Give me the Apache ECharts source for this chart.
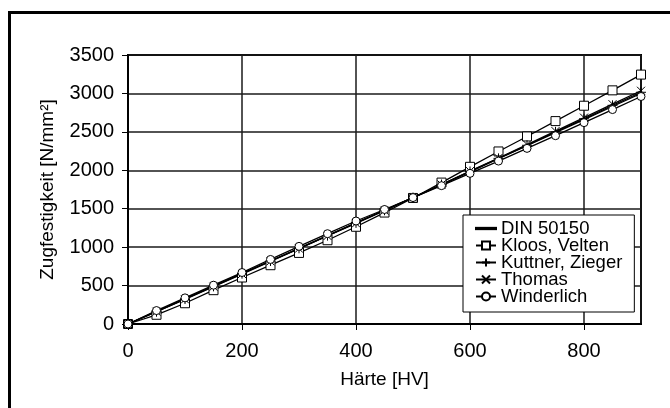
<!DOCTYPE html>
<html>
<head>
<meta charset="utf-8">
<script src="https://cdn.jsdelivr.net/npm/echarts@6/dist/echarts.min.js"></script>
<style>html,body{margin:0;padding:0;background:#fff}#c{width:670px;height:408px}</style>
</head>
<body>
<div id="c"></div>
<script>
const hardness = [0,50,100,150,200,250,300,350,400,450,500,550,600,650,700,750,800,850,900];
const din50150 = [0,165,330,495,660,820,985,1150,1315,1480,1645,1810,1980,2150,2320,2490,2660,2830,3000];
const kloosVelten = [0,120,270,440,605,765,925,1090,1265,1450,1640,1840,2045,2245,2440,2640,2840,3040,3245];
const kuttnerZieger = [0,160,325,490,655,820,985,1150,1315,1480,1645,1815,1985,2155,2325,2500,2670,2845,3015];
const thomas = [0,160,320,485,650,815,980,1145,1310,1475,1645,1815,1990,2160,2335,2510,2685,2860,3035];
const winderlich = [0,175,340,505,670,840,1010,1175,1340,1490,1645,1800,1960,2120,2285,2450,2620,2790,2960];
const seriesNames = ['DIN 50150','Kloos, Velten','Kuttner, Zieger','Thomas','Winderlich'];
const xTicks = [0,200,400,600,800];
const yTicks = [0,500,1000,1500,2000,2500,3000,3500];

const FONT = 'Liberation Sans, Arial, sans-serif';
const pair = arr => hardness.map((h,i)=>[h,arr[i]]);
const plusPath = 'path://M0,5L10,5M5,0L5,10';
const crossPath = 'path://M0,0L10,10M10,0L0,10';

function mk(name, data, symbol, size){
  const hollow = (symbol==='rect'||symbol==='circle');
  return {
    name, type:'line', data: pair(data),
    symbol: symbol || 'none', symbolSize: size || 8, showSymbol: !!symbol,
    lineStyle:{color:'#000', width:1.3},
    itemStyle:{color: hollow ? '#fff' : (symbol ? 'none' : '#000'), borderColor:'#000', borderWidth:1},
    emphasis:{disabled:true}, animation:false, z: 2
  };
}

const chart = echarts.init(document.getElementById('c'), null, {renderer:'canvas'});
chart.setOption({
  backgroundColor:'#fff',
  animation:false,
  graphic:[{type:'rect', shape:{x:9.5,y:12.5,width:700,height:450}, style:{fill:'none', stroke:'#000', lineWidth:3}, z:10}],
  grid:{left:128, top:55, right:29, bottom:84, show:true, borderColor:'#000', borderWidth:2, backgroundColor:'transparent'},
  legend:{
    orient:'vertical', left:463, top:215,
    backgroundColor:'#fff', borderColor:'#000', borderWidth:1, borderRadius:0,
    padding:[4,12,6,12], itemGap:-2, itemWidth:20, itemHeight:10,
    textStyle:{fontFamily:FONT, fontSize:18.5, color:'#000', padding:[0,0,0,0]},
    data: [
      {name:seriesNames[0], icon:'path://M0,0L20,0L20,1.3L0,1.3Z'},
      seriesNames[1], seriesNames[2], seriesNames[3], seriesNames[4]
    ], z:5
  },
  xAxis:{
    type:'value', min:0, max:900, interval:200,
    name:'Härte [HV]', nameLocation:'middle', nameGap:46,
    nameTextStyle:{fontFamily:FONT, fontSize:19, color:'#000'},
    axisLine:{show:true, lineStyle:{color:'#000', width:2}},
    axisTick:{show:true, length:6, lineStyle:{color:'#000', width:1}},
    axisLabel:{fontFamily:FONT, fontSize:20, color:'#000', margin:17, showMaxLabel:false,
      formatter: v => xTicks.includes(v) ? String(v) : ''},
    splitLine:{show:true, lineStyle:{color:'#1a1a1a', width:1.5}}
  },
  yAxis:{
    type:'value', min:0, max:3500, interval:500,
    name:'Zugfestigkeit [N/mm²]', nameLocation:'middle', nameGap:71,
    nameTextStyle:{fontFamily:FONT, fontSize:19, color:'#000'},
    axisLine:{show:true, lineStyle:{color:'#000', width:2}},
    axisTick:{show:true, length:6, lineStyle:{color:'#000', width:1}},
    axisLabel:{fontFamily:FONT, fontSize:20, color:'#000', margin:14,
      formatter: v => yTicks.includes(v) ? String(v) : ''},
    splitLine:{show:true, lineStyle:{color:'#1a1a1a', width:1.5}}
  },
  series:[
    mk(seriesNames[0], din50150, null),
    mk(seriesNames[1], kloosVelten, 'rect', 9),
    mk(seriesNames[2], kuttnerZieger, plusPath, 10),
    mk(seriesNames[3], thomas, crossPath, 8),
    mk(seriesNames[4], winderlich, 'circle', 8)
  ]
});
</script>
</body>
</html>
